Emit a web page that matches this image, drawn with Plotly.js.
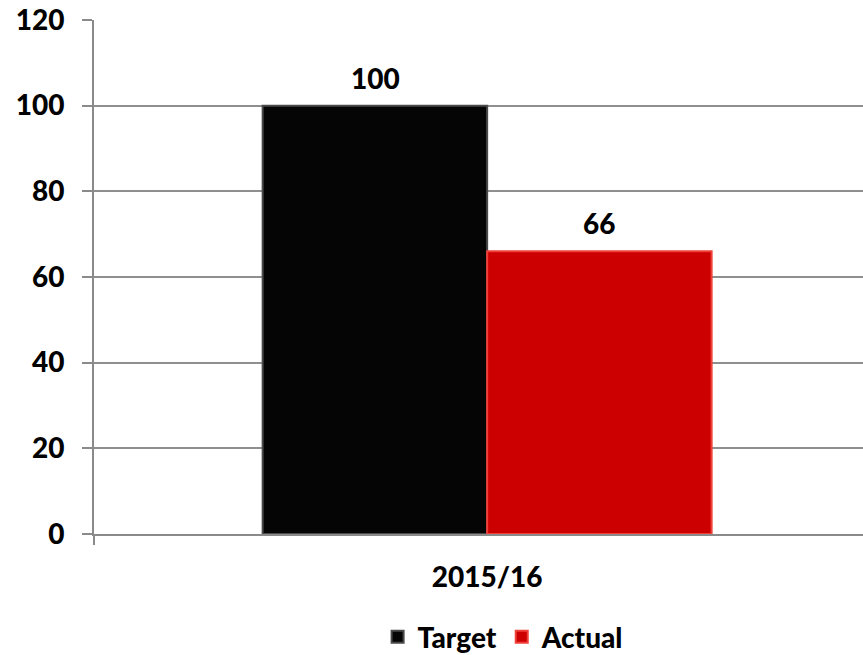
<!DOCTYPE html>
<html>
<head>
<meta charset="utf-8">
<script src="https://cdn.plot.ly/plotly-3.0.1.min.js"></script>
<style>html,body{margin:0;padding:0;background:#fff;overflow:hidden}#chart{width:863px;height:655px}</style>
</head>
<body>
<div id="chart"></div>
<script>
const categories = ["2015/16"];
const seriesNames = ["Target", "Actual"];
const targetValues = [100];
const actualValues = [66];
const yTickValues = [0, 20, 40, 60, 80, 100, 120];

const FONT = "Lato, 'Open Sans', sans-serif";
const colors = ["#050505", "#cc0000"];
const lines = ["#4a4a4a", "#f0403a"];
const series = [targetValues, actualValues];

const traces = series.map((vals, i) => ({
  type: "bar",
  name: seriesNames[i],
  x: categories,
  y: vals,
  marker: { color: colors[i], line: { color: lines[i], width: 2 } },
  hoverinfo: "skip"
}));

const shifts = [-112, 112];
const annotations = [];
series.forEach((vals, i) => {
  vals.forEach((v, j) => {
    annotations.push({
      x: categories[j], y: v, xref: "x", yref: "y",
      text: String(v), showarrow: false,
      xshift: shifts[i], yshift: 9, yanchor: "bottom",
      font: { family: FONT, size: 28, color: "#000", weight: 900 }
    });
  });
});

const layout = {
  width: 863, height: 655,
  margin: { l: 94, r: 0, t: 20, b: 121, autoexpand: false },
  paper_bgcolor: "#fff", plot_bgcolor: "#fff",
  barmode: "group",
  bargap: 0.429,
  bargroupgap: 0,
  showlegend: true,
  legend: {
    orientation: "h", x: 0.532, xanchor: "center", y: -0.152, yanchor: "top",
    font: { family: FONT, size: 28, color: "#000", weight: 900 },
    itemwidth: 30
  },
  xaxis: {
    type: "category",
    range: [-0.5, 0.478],
    showline: true, linecolor: "#8a8a8a", linewidth: 2,
    ticks: "outside", tickson: "boundaries", ticklen: 9, tickcolor: "#8a8a8a", tickwidth: 2,
    ticklabelstandoff: 17,
    tickfont: { family: FONT, size: 28, color: "#000", weight: 900 },
    showgrid: false, zeroline: false
  },
  yaxis: {
    range: [0, 120],
    tickvals: yTickValues,
    showline: true, linecolor: "#8a8a8a", linewidth: 2,
    ticks: "outside", ticklen: 10, tickcolor: "#8a8a8a", tickwidth: 2,
    ticklabelstandoff: 12,
    showgrid: true, gridcolor: "#8f8f8f", gridwidth: 2,
    zeroline: false,
    tickfont: { family: FONT, size: 28, color: "#000", weight: 900 }
  },
  annotations: annotations
};

Plotly.newPlot("chart", traces, layout, { displayModeBar: false, staticPlot: true });
</script>
</body>
</html>
